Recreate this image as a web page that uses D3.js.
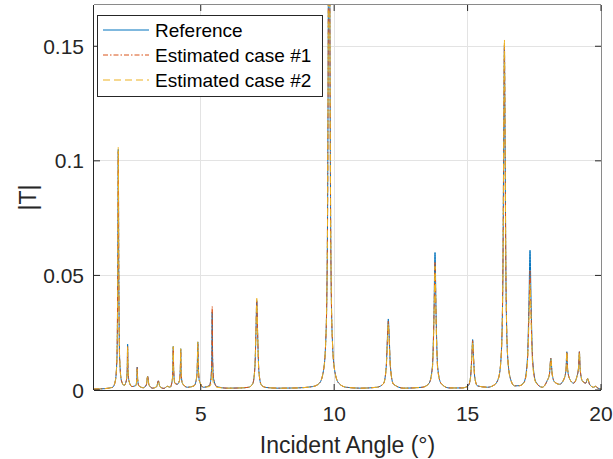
<!DOCTYPE html>
<html>
<head>
<meta charset="utf-8">
<script src="https://cdn.jsdelivr.net/npm/d3@7/dist/d3.min.js"></script>
<style>
  html, body { margin: 0; padding: 0; background: #fff; }
  svg { display: block; font-family: "Liberation Sans", Arial, sans-serif; }
</style>
</head>
<body>
<div id="chart"></div>
<script>
// incident angle grid (deg), shared by the three curves
var angles = [
	1.00, 1.40, 1.70, 1.80, 1.86, 1.89, 1.91, 1.93, 1.96, 2.03, 2.13,
	2.21, 2.245, 2.26, 2.275, 2.31, 2.42, 2.57, 2.605, 2.62, 2.635, 2.68,
	2.85, 2.96, 3.01, 3.06, 3.20, 3.35, 3.41, 3.47, 3.62, 3.75, 3.85,
	3.93, 3.955, 3.97, 3.985, 4.03, 4.12, 4.20, 4.235, 4.25, 4.265, 4.31, 4.50,
	4.75, 4.84, 4.87, 4.89, 4.91, 4.95, 5.10, 5.33, 5.39, 5.415, 5.43, 5.445, 5.48, 5.60,
	6.00, 6.50, 6.80, 6.95, 7.03, 7.07, 7.10, 7.13, 7.18, 7.27, 7.45, 7.90, 8.60,
	9.20, 9.45, 9.60, 9.68, 9.73, 9.76, 9.785, 9.81, 9.835, 9.86, 9.89, 9.94, 10.02, 10.17, 10.45, 11.00,
	11.60, 11.85, 11.95, 12.00, 12.03, 12.06, 12.11, 12.22, 12.60, 13.30,
	13.55, 13.68, 13.74, 13.78, 13.82, 13.88, 14.00, 14.30, 14.80,
	15.02, 15.11, 15.16, 15.19, 15.22, 15.27, 15.37, 15.75,
	16.00, 16.16, 16.26, 16.32, 16.355, 16.38, 16.405, 16.44, 16.50, 16.60, 16.76, 16.95,
	17.12, 17.24, 17.30, 17.34, 17.38, 17.44, 17.56, 17.80,
	17.98, 18.07, 18.12, 18.17, 18.26, 18.45, 18.62, 18.69, 18.72, 18.75, 18.82, 18.97,
	19.10, 19.16, 19.19, 19.22, 19.30, 19.43, 19.50, 19.57, 19.72, 19.80, 19.88, 20.00
];

var refT = [
	0.0004, 0.0006, 0.0012, 0.004, 0.014, 0.050, 0.105, 0.050, 0.014, 0.004, 0.002,
	0.004, 0.009, 0.020, 0.009, 0.004, 0.0015, 0.002, 0.005, 0.010, 0.005, 0.0018,
	0.0010, 0.0022, 0.006, 0.0022, 0.0008, 0.0015, 0.004, 0.0015, 0.0007, 0.0016, 0.0012,
	0.004, 0.009, 0.019, 0.009, 0.003, 0.0025, 0.004, 0.009, 0.018, 0.008, 0.003, 0.0012,
	0.0018, 0.005, 0.010, 0.021, 0.010, 0.004, 0.0012, 0.002, 0.006, 0.014, 0.034, 0.014, 0.005, 0.0015,
	0.0008, 0.0009, 0.0012, 0.0028, 0.0100, 0.0256, 0.039, 0.0256, 0.0080, 0.0022, 0.0011, 0.0008, 0.0009,
	0.0015, 0.003, 0.0085, 0.020, 0.045, 0.095, 0.20, 0.50, 0.20, 0.095, 0.045, 0.020, 0.0085, 0.003, 0.0012, 0.0008,
	0.0012, 0.0028, 0.0099, 0.024, 0.031, 0.024, 0.0099, 0.0026, 0.0008, 0.0012,
	0.0028, 0.010, 0.033, 0.060, 0.033, 0.010, 0.003, 0.0009, 0.0009,
	0.0018, 0.0055, 0.015, 0.022, 0.015, 0.0055, 0.0018, 0.0012,
	0.0022, 0.0052, 0.015, 0.0465, 0.109, 0.150, 0.109, 0.0465, 0.015, 0.0052, 0.0018, 0.0019,
	0.0035, 0.013, 0.038, 0.061, 0.038, 0.013, 0.0035, 0.0012,
	0.004, 0.007, 0.0138, 0.007, 0.0035, 0.0025, 0.005, 0.009, 0.0167, 0.009, 0.005, 0.003,
	0.006, 0.010, 0.0167, 0.009, 0.004, 0.003, 0.005, 0.0025, 0.0012, 0.0016, 0.0008, 0.0005
];

var est1T = [
	0.0004, 0.0006, 0.0012, 0.004, 0.014, 0.050, 0.104, 0.050, 0.014, 0.004, 0.002,
	0.004, 0.009, 0.019, 0.009, 0.004, 0.0015, 0.002, 0.005, 0.010, 0.005, 0.0018,
	0.0010, 0.0022, 0.006, 0.0022, 0.0008, 0.0015, 0.004, 0.0015, 0.0007, 0.0016, 0.0012,
	0.004, 0.009, 0.0185, 0.009, 0.003, 0.0025, 0.004, 0.009, 0.0175, 0.008, 0.003, 0.0012,
	0.0018, 0.005, 0.010, 0.020, 0.010, 0.004, 0.0012, 0.002, 0.006, 0.015, 0.0365, 0.015, 0.005, 0.0015,
	0.0008, 0.0009, 0.0012, 0.0028, 0.0100, 0.0256, 0.039, 0.0256, 0.0080, 0.0022, 0.0011, 0.0008, 0.0009,
	0.0015, 0.003, 0.0085, 0.020, 0.045, 0.095, 0.20, 0.50, 0.20, 0.095, 0.045, 0.020, 0.0085, 0.003, 0.0012, 0.0008,
	0.0012, 0.0028, 0.0097, 0.023, 0.030, 0.023, 0.0097, 0.0026, 0.0008, 0.0012,
	0.0028, 0.0095, 0.031, 0.056, 0.031, 0.0095, 0.003, 0.0009, 0.0009,
	0.0018, 0.0055, 0.0148, 0.0215, 0.0148, 0.0055, 0.0018, 0.0012,
	0.0022, 0.0052, 0.015, 0.0465, 0.110, 0.151, 0.110, 0.0465, 0.015, 0.0052, 0.0018, 0.0019,
	0.0033, 0.012, 0.033, 0.052, 0.033, 0.012, 0.0033, 0.0012,
	0.004, 0.007, 0.0138, 0.007, 0.0035, 0.0025, 0.005, 0.009, 0.0167, 0.009, 0.005, 0.003,
	0.006, 0.010, 0.0167, 0.009, 0.004, 0.003, 0.005, 0.0025, 0.0012, 0.0016, 0.0008, 0.0005
];

var est2T = [
	0.0004, 0.0006, 0.0012, 0.004, 0.014, 0.050, 0.106, 0.050, 0.014, 0.004, 0.002,
	0.004, 0.009, 0.019, 0.009, 0.004, 0.0015, 0.002, 0.005, 0.009, 0.005, 0.0018,
	0.0010, 0.0022, 0.006, 0.0022, 0.0008, 0.0015, 0.004, 0.0015, 0.0007, 0.0016, 0.0012,
	0.004, 0.009, 0.019, 0.009, 0.003, 0.0025, 0.004, 0.009, 0.018, 0.008, 0.003, 0.0012,
	0.0018, 0.005, 0.010, 0.021, 0.010, 0.004, 0.0012, 0.0015, 0.003, 0.005, 0.010, 0.005, 0.003, 0.0012,
	0.0008, 0.0009, 0.0012, 0.0028, 0.0100, 0.0260, 0.040, 0.0260, 0.0080, 0.0022, 0.0011, 0.0008, 0.0009,
	0.0015, 0.003, 0.0085, 0.020, 0.045, 0.095, 0.20, 0.50, 0.20, 0.095, 0.045, 0.020, 0.0085, 0.003, 0.0012, 0.0008,
	0.0012, 0.0028, 0.0094, 0.022, 0.029, 0.022, 0.0094, 0.0026, 0.0008, 0.0012,
	0.0027, 0.009, 0.030, 0.054, 0.030, 0.009, 0.003, 0.0009, 0.0009,
	0.0018, 0.0055, 0.0145, 0.021, 0.0145, 0.0055, 0.0018, 0.0012,
	0.0022, 0.0052, 0.015, 0.0465, 0.111, 0.153, 0.111, 0.0465, 0.015, 0.0052, 0.0018, 0.0019,
	0.0032, 0.011, 0.030, 0.046, 0.030, 0.011, 0.0032, 0.0012,
	0.004, 0.007, 0.0135, 0.007, 0.0035, 0.0025, 0.005, 0.009, 0.0167, 0.009, 0.005, 0.003,
	0.006, 0.010, 0.0167, 0.009, 0.004, 0.003, 0.005, 0.0025, 0.0012, 0.0016, 0.0008, 0.0005
];

var xTicks = [5, 10, 15, 20];
var yTicks = [0, 0.05, 0.1, 0.15];
var seriesNames = ['Reference', 'Estimated case #1', 'Estimated case #2'];

var width = 613, height = 459;
var margin = {top: 5, right: 12, bottom: 69, left: 94};

var svg = d3.select('#chart').append('svg')
	.attr('width', width).attr('height', height);

var x = d3.scaleLinear().domain([1, 20]).range([margin.left, width - margin.right]);
var y = d3.scaleLinear().domain([0, 0.168]).range([height - margin.bottom, margin.top]);

var x0 = x.range()[0], x1 = x.range()[1], y0 = y.range()[0], y1 = y.range()[1];

// grid
svg.append('g').selectAll('line').data(xTicks.filter(d => d < 20)).enter()
	.append('line')
	.attr('x1', d => x(d)).attr('x2', d => x(d))
	.attr('y1', y1).attr('y2', y0)
	.attr('stroke', '#e3e3e3').attr('stroke-width', 1).attr('shape-rendering', 'crispEdges');
svg.append('g').selectAll('line').data(yTicks.filter(d => d > 0)).enter()
	.append('line')
	.attr('x1', x0).attr('x2', x1)
	.attr('y1', d => y(d)).attr('y2', d => y(d))
	.attr('stroke', '#e3e3e3').attr('stroke-width', 1).attr('shape-rendering', 'crispEdges');

// curves
svg.append('clipPath').attr('id', 'plotclip')
	.append('rect').attr('x', x0).attr('y', y1).attr('width', x1 - x0).attr('height', y0 - y1);

var line = d3.line()
	.x((d, i) => x(angles[i]))
	.y(d => y(d))
	.curve(d3.curveMonotoneX);

var styles = [
	{data: refT, color: '#0072BD', dash: null},
	{data: est1T, color: '#D95319', dash: '5,2,1.5,2'},
	{data: est2T, color: '#EDB120', dash: '7,4'}
];

var curves = svg.append('g').attr('clip-path', 'url(#plotclip)');
styles.forEach(s => {
	curves.append('path')
		.attr('d', line(s.data))
		.attr('fill', 'none')
		.attr('stroke', s.color)
		.attr('stroke-width', 1)
		.attr('stroke-dasharray', s.dash);
});

// axes box
var axisColor = '#262626';
svg.append('line').attr('x1', x0).attr('x2', x1).attr('y1', y0 + 0.5).attr('y2', y0 + 0.5)
	.attr('stroke', axisColor);
svg.append('line').attr('x1', x0 - 0.5).attr('x2', x0 - 0.5).attr('y1', y1).attr('y2', y0)
	.attr('stroke', axisColor);
svg.append('line').attr('x1', x0).attr('x2', x1).attr('y1', y1 - 0.5).attr('y2', y1 - 0.5)
	.attr('stroke', '#8a8a8a');
svg.append('line').attr('x1', x1 + 0.5).attr('x2', x1 + 0.5).attr('y1', y1).attr('y2', y0)
	.attr('stroke', '#8a8a8a');

// ticks, inward on all four sides
var tl = 6;
xTicks.forEach(t => {
	svg.append('line').attr('x1', x(t)).attr('x2', x(t)).attr('y1', y0).attr('y2', y0 - tl)
		.attr('stroke', axisColor);
	svg.append('line').attr('x1', x(t)).attr('x2', x(t)).attr('y1', y1).attr('y2', y1 + tl)
		.attr('stroke', axisColor);
	svg.append('text').attr('x', x(t)).attr('y', y0 + 31)
		.attr('text-anchor', 'middle').attr('font-size', '21px').attr('fill', axisColor)
		.text(t);
});
yTicks.forEach(t => {
	svg.append('line').attr('x1', x0).attr('x2', x0 + tl).attr('y1', y(t)).attr('y2', y(t))
		.attr('stroke', axisColor);
	svg.append('line').attr('x1', x1).attr('x2', x1 - tl).attr('y1', y(t)).attr('y2', y(t))
		.attr('stroke', axisColor);
	svg.append('text').attr('x', x0 - 10).attr('y', y(t)).attr('dy', '0.36em')
		.attr('text-anchor', 'end').attr('font-size', '21px').attr('fill', axisColor)
		.text(t);
});

// axis labels
svg.append('text')
	.attr('x', (x0 + x1) / 2).attr('y', 453)
	.attr('text-anchor', 'middle').attr('font-size', '23px').attr('fill', axisColor)
	.text('Incident Angle (°)');
svg.append('text')
	.attr('transform', `translate(36,${(y0 + y1) / 2}) rotate(-90)`)
	.attr('text-anchor', 'middle').attr('font-size', '23px').attr('fill', axisColor)
	.text('|T|');

// legend
var lg = svg.append('g');
lg.append('rect').attr('x', 97.5).attr('y', 15.5).attr('width', 225).attr('height', 81)
	.attr('fill', '#fff').attr('stroke', axisColor).attr('stroke-width', 1);
styles.forEach((s, i) => {
	var ly = 30 + i * 25;
	lg.append('line').attr('x1', 103).attr('x2', 149).attr('y1', ly).attr('y2', ly)
		.attr('stroke', s.color).attr('stroke-width', 1).attr('stroke-dasharray', s.dash);
	lg.append('text').attr('x', 155).attr('y', ly).attr('dy', '0.36em')
		.attr('font-size', '19px').attr('fill', '#000')
		.text(seriesNames[i]);
});
</script>
</body>
</html>
